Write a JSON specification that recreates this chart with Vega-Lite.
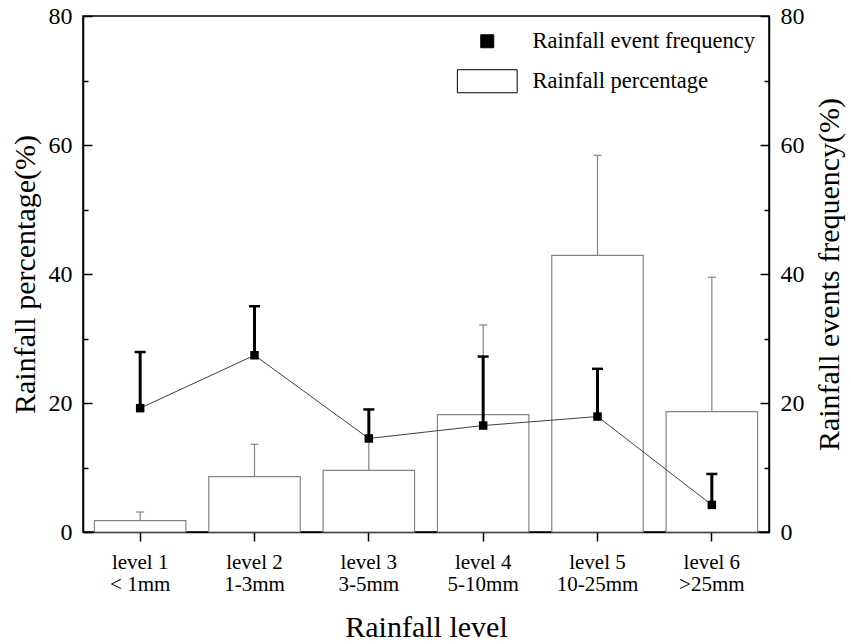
{
  "$schema": "https://vega.github.io/schema/vega-lite/v6.json",
  "width": 686,
  "height": 516,
  "padding": {"left": 10, "top": 4, "right": 5, "bottom": 5},
  "background": "#ffffff",
  "config": {
    "font": "Liberation Serif",
    "view": {"stroke": "#000000", "strokeWidth": 1.5},
    "axis": {
      "labelFont": "Liberation Serif",
      "titleFont": "Liberation Serif",
      "labelColor": "#000000",
      "titleColor": "#000000",
      "domainColor": "#000000",
      "tickColor": "#000000",
      "domainWidth": 1.5,
      "tickWidth": 1.5,
      "grid": false,
      "titleFontWeight": "normal",
      "titleFontSize": 30,
      "labelFontSize": 24
    },
    "legend": {
      "labelFont": "Liberation Serif",
      "labelFontSize": 22.5,
      "labelColor": "#000000",
      "labelLimit": 0
    }
  },
  "data": {
    "values": [
      {"level": "level 1|< 1mm", "pct": 1.75, "pct_up": 3.1, "freq": 19.2, "freq_up": 27.9},
      {"level": "level 2|1-3mm", "pct": 8.6, "pct_up": 13.6, "freq": 27.4, "freq_up": 35.0},
      {"level": "level 3|3-5mm", "pct": 9.55, "pct_up": 14.3, "freq": 14.5, "freq_up": 19.0},
      {"level": "level 4|5-10mm", "pct": 18.2, "pct_up": 32.1, "freq": 16.5, "freq_up": 27.2},
      {"level": "level 5|10-25mm", "pct": 42.9, "pct_up": 58.4, "freq": 17.9, "freq_up": 25.3},
      {"level": "level 6|>25mm", "pct": 18.65, "pct_up": 39.5, "freq": 4.2, "freq_up": 9.0}
    ]
  },
  "encoding": {
    "x": {
      "field": "level",
      "type": "nominal",
      "sort": null,
      "scale": {"paddingInner": 0.2, "paddingOuter": 0.1},
      "axis": {
        "title": "Rainfall level",
        "labelAngle": 0,
        "labelExpr": "split(datum.label, '|')",
        "labelFontSize": 21,
        "labelLineHeight": 22,
        "labelBaseline": "top",
        "tickSize": 9,
        "labelPadding": 10,
        "titlePadding": 18
      }
    }
  },
  "layer": [
    {
      "layer": [
        {
          "mark": {"type": "bar", "stroke": "#858585", "strokeWidth": 1.2},
          "encoding": {
            "y": {
              "field": "pct",
              "type": "quantitative",
              "scale": {"domain": [0, 80]},
              "axis": {
                "orient": "left",
                "title": "Rainfall percentage(%)",
                "values": [0, 10, 20, 30, 40, 50, 60, 70, 80],
                "labelExpr": "datum.value % 20 === 0 ? datum.label : ''",
                "tickSize": {"condition": {"test": "datum.value % 20 === 0", "value": -9}, "value": -5},
                "labelPadding": 20,
                "titlePadding": 8
              }
            },
            "fill": {
              "datum": "Rainfall percentage",
              "type": "nominal",
              "scale": {
                "domain": ["Rainfall event frequency", "Rainfall percentage"],
                "range": ["#000000", "#ffffff"]
              },
              "legend": {
                "orient": "top-right",
                "title": null,
                "offset": 14,
                "symbolSize": 169,
                "labelOffset": 34,
                "rowPadding": 14,
                "symbolStrokeColor": "#000000",
                "symbolStrokeWidth": 1
              }
            }
          }
        },
        {
          "mark": {"type": "rule", "color": "#858585", "strokeWidth": 1.2},
          "encoding": {
            "y": {
              "field": "pct",
              "type": "quantitative",
              "axis": {
                "orient": "left",
                "title": "Rainfall percentage(%)",
                "values": [0, 10, 20, 30, 40, 50, 60, 70, 80],
                "labelExpr": "datum.value % 20 === 0 ? datum.label : ''",
                "tickSize": {"condition": {"test": "datum.value % 20 === 0", "value": -9}, "value": -5},
                "labelPadding": 20,
                "titlePadding": 8
              }
            },
            "y2": {"field": "pct_up"}
          }
        },
        {
          "mark": {"type": "tick", "color": "#858585", "size": 8, "thickness": 1.2, "opacity": 1},
          "encoding": {
            "y": {
              "field": "pct_up",
              "type": "quantitative",
              "axis": {
                "orient": "left",
                "title": "Rainfall percentage(%)",
                "values": [0, 10, 20, 30, 40, 50, 60, 70, 80],
                "labelExpr": "datum.value % 20 === 0 ? datum.label : ''",
                "tickSize": {"condition": {"test": "datum.value % 20 === 0", "value": -9}, "value": -5},
                "labelPadding": 20,
                "titlePadding": 8
              }
            }
          }
        }
      ]
    },
    {
      "layer": [
        {
          "mark": {"type": "line", "color": "#404040", "strokeWidth": 1},
          "encoding": {
            "y": {
              "field": "freq",
              "type": "quantitative",
              "scale": {"domain": [0, 80]},
              "axis": {
                "orient": "right",
                "title": "Rainfall events frequency(%)",
                "titleAngle": 270,
                "titleBaseline": "top",
                "values": [0, 10, 20, 30, 40, 50, 60, 70, 80],
                "labelExpr": "datum.value % 20 === 0 ? datum.label : ''",
                "tickSize": {"condition": {"test": "datum.value % 20 === 0", "value": -9}, "value": -5},
                "labelPadding": 20,
                "titlePadding": 10
              }
            }
          }
        },
        {
          "mark": {"type": "rule", "color": "#000000", "strokeWidth": 3},
          "encoding": {
            "y": {
              "field": "freq",
              "type": "quantitative",
              "axis": {
                "orient": "right",
                "title": "Rainfall events frequency(%)",
                "titleAngle": 270,
                "titleBaseline": "top",
                "values": [0, 10, 20, 30, 40, 50, 60, 70, 80],
                "labelExpr": "datum.value % 20 === 0 ? datum.label : ''",
                "tickSize": {"condition": {"test": "datum.value % 20 === 0", "value": -9}, "value": -5},
                "labelPadding": 20,
                "titlePadding": 10
              }
            },
            "y2": {"field": "freq_up"}
          }
        },
        {
          "mark": {"type": "tick", "color": "#000000", "size": 11, "thickness": 2.5, "opacity": 1},
          "encoding": {
            "y": {
              "field": "freq_up",
              "type": "quantitative",
              "axis": {
                "orient": "right",
                "title": "Rainfall events frequency(%)",
                "titleAngle": 270,
                "titleBaseline": "top",
                "values": [0, 10, 20, 30, 40, 50, 60, 70, 80],
                "labelExpr": "datum.value % 20 === 0 ? datum.label : ''",
                "tickSize": {"condition": {"test": "datum.value % 20 === 0", "value": -9}, "value": -5},
                "labelPadding": 20,
                "titlePadding": 10
              }
            }
          }
        },
        {
          "mark": {"type": "point", "filled": true, "size": 72, "opacity": 1},
          "encoding": {
            "y": {
              "field": "freq",
              "type": "quantitative",
              "axis": {
                "orient": "right",
                "title": "Rainfall events frequency(%)",
                "titleAngle": 270,
                "titleBaseline": "top",
                "values": [0, 10, 20, 30, 40, 50, 60, 70, 80],
                "labelExpr": "datum.value % 20 === 0 ? datum.label : ''",
                "tickSize": {"condition": {"test": "datum.value % 20 === 0", "value": -9}, "value": -5},
                "labelPadding": 20,
                "titlePadding": 10
              }
            },
            "fill": {"datum": "Rainfall event frequency", "type": "nominal"},
            "shape": {
              "datum": "Rainfall event frequency",
              "type": "nominal",
              "scale": {
                "domain": ["Rainfall event frequency", "Rainfall percentage"],
                "range": ["square", "M-4.6,-1.77H4.6V1.77H-4.6Z"]
              },
              "legend": {
                "orient": "top-right",
                "title": null,
                "offset": 14,
                "symbolSize": 169,
                "labelOffset": 34,
                "rowPadding": 14,
                "symbolStrokeColor": "#000000",
                "symbolStrokeWidth": 1
              }
            }
          }
        }
      ]
    }
  ],
  "resolve": {"scale": {"y": "independent"}}
}
